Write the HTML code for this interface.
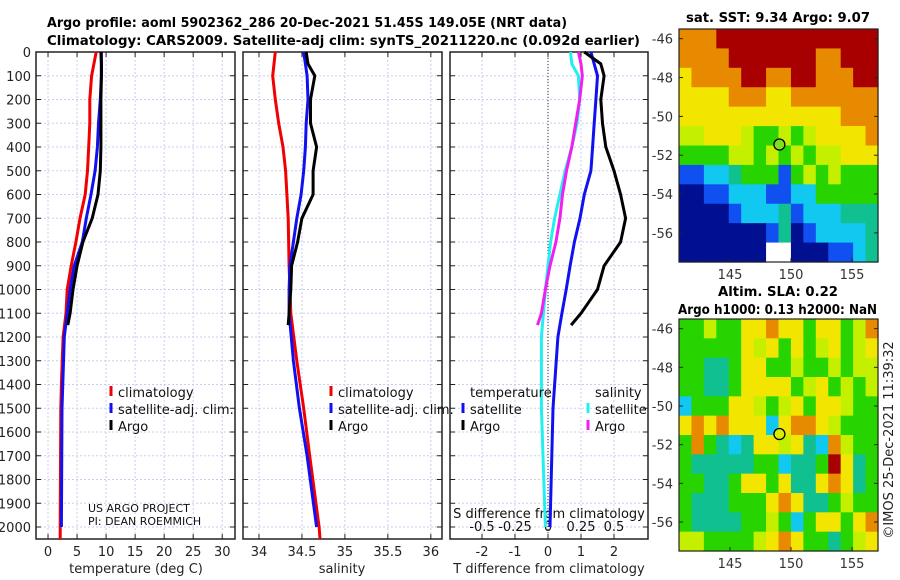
<!DOCTYPE html>
<html><head><meta charset="utf-8"><style>
body{margin:0;background:#fff;}
svg{display:block;font-family:"DejaVu Sans","Liberation Sans",sans-serif;}
</style></head><body>
<svg id="fig" width="900" height="580" viewBox="0 0 900 580">
<text x="47" y="27" font-size="13" font-weight="bold" textLength="520" lengthAdjust="spacingAndGlyphs">Argo profile: aoml 5902362_286 20-Dec-2021 51.45S 149.05E (NRT data)</text>
<text x="47" y="45" font-size="13" font-weight="bold" textLength="593" lengthAdjust="spacingAndGlyphs">Climatology: CARS2009. Satellite-adj clim: synTS_20211220.nc (0.092d earlier)</text>
<text x="686" y="22" font-size="13" font-weight="bold" textLength="184" lengthAdjust="spacingAndGlyphs">sat. SST: 9.34 Argo: 9.07</text>
<text x="718" y="296" font-size="13" font-weight="bold" textLength="120" lengthAdjust="spacingAndGlyphs">Altim. SLA: 0.22</text>
<text x="678" y="314" font-size="13" font-weight="bold" textLength="199" lengthAdjust="spacingAndGlyphs">Argo h1000: 0.13 h2000: NaN</text>
<text transform="translate(893,440) rotate(-90)" font-size="13" text-anchor="middle" fill="#222">©IMOS 25-Dec-2021 11:39:32</text>
</svg>
<script>
// ---- data ----
const depthT = [0,100,200,300,400,500,600,700,800,900,1000,1100,1200,1400,1500,2000,2050];
const tempClim = [8.3,7.5,7.2,7.2,7.0,6.8,6.4,5.5,4.8,4.0,3.3,3.1,2.6,2.3,2.2,2.1,2.1];
const depthTB = [0,100,200,300,400,500,600,700,800,900,1000,1100,1200,1500,2000];
const tempSat = [9.2,9.2,9.0,8.7,8.5,8.1,7.4,6.6,5.9,4.5,3.8,3.3,2.8,2.4,2.3];
const depthArgo = [0,50,100,200,300,400,500,600,700,800,900,1000,1100,1150];
const tempArgo = [9.1,9.2,9.2,9.1,9.1,9.1,9.0,8.6,7.6,6.0,5.0,4.3,3.8,3.4];
const depthS = [0,100,200,300,400,500,700,900,1100,1300,1500,1700,2000,2050];
const salClim = [34.19,34.16,34.19,34.23,34.28,34.31,34.34,34.35,34.37,34.44,34.52,34.59,34.70,34.71];
const depthSB = [0,100,200,300,400,500,600,700,800,900,1000,1100,1300,1500,1700,2000];
const salSat = [34.52,34.56,34.57,34.55,34.54,34.52,34.49,34.44,34.40,34.36,34.35,34.35,34.40,34.47,34.56,34.67];
const salArgo = [34.55,34.57,34.65,34.60,34.60,34.67,34.63,34.63,34.50,34.45,34.38,34.37,34.35,34.34];
const tDiffArgo = [1.1,1.6,1.7,1.6,1.65,1.75,2.0,2.2,2.35,2.2,1.7,1.5,1.0,0.7];
const tDiffSat = [1.3,1.5,1.45,1.4,1.35,1.3,1.1,0.97,0.8,0.67,0.55,0.42,0.3,0.15,0.06];
const sDiffArgo = [0.23,0.25,0.26,0.24,0.21,0.18,0.14,0.11,0.09,0.06,0.015,-0.02,-0.05,-0.08];
const depthSD = [0,50,100,200,300,400,500,600,700,800,900,1000,1200,1500,2000];
const sDiffSat = [0.17,0.18,0.23,0.24,0.22,0.18,0.13,0.09,0.05,0.02,0,-0.02,-0.05,-0.05,-0.02];
const depthTicks = [0,100,200,300,400,500,600,700,800,900,1000,1100,1200,1300,1400,1500,1600,1700,1800,1900,2000];
const tempTicks = [0,5,10,15,20,25,30];
const salTicks = [34,34.5,35,35.5,36];
const salTickLabels = ["34","34.5","35","35.5","36"];
const tdTicks = [-2,-1,0,1,2];
const sdTicks = [-0.5,-0.25,0,0.25,0.5];
const sdTickLabels = ["-0.5","-0.25","0","0.25","0.5"];
const lonTicks = [145,150,155];
const latTicks = [-46,-48,-50,-52,-54,-56];
const sstGrid = [
"OOORRRRRRRRRRRRR",
"OOOORRRRRRROORRR",
"YOOOORROORROOORR",
"YYYYOOOYYOOOOOOO",
"YYYYYYYYYYYYYOOO",
"LLYYYLGGLGLYYYYO",
"GGGGLLGLGLGLLYYY",
"BBCCTGGGBGLGLGGG",
"NNBBCCCBBCCGGGGG",
"NNNNBCCCTBCCCTTT",
"NNNNNNNBTNBCCCCT",
"NNNNNNNWWNNNBBCT"];
const slaGrid = [
"GGLGGYYOYYGYYGLO",
"GGGGGYLYGYGLYGLY",
"GGTTGYYGGLGGLGLL",
"GGTTGYYYYGLYGLGL",
"CGGGYYLGLYGYYLGG",
"YOYOYYYCYOOYLGGG",
"GOGTCTYYLYTCOLGG",
"GTTTTTGGCTTGRYTG",
"GGTTGYYGYTTYOYTG",
"GTTTGGGYOYTTGLGG",
"GTTTTGGLGCGYYGYO",
"LLGGGGLYOYGGTGLY"];
const palette = {R:"#a80000",O:"#e88a00",Y:"#f2e600",L:"#c4f000",G:"#28d400",T:"#10c090",C:"#10c8f0",B:"#1050f0",N:"#001090",W:"#ffffff"};

// ---- helpers ----
const svg = document.getElementById('fig');
const NS = "http://www.w3.org/2000/svg";
function mk(tag, attrs, parent){const e=document.createElementNS(NS,tag);for(const k in attrs)e.setAttribute(k,attrs[k]);(parent||svg).appendChild(e);return e;}
const top0=52, depthScale=(527-52)/2000;
const yD = d => top0 + d*depthScale;
const panels = [
 {x0:36,x1:235,vmin:-2.07,vmax:32.2,name:'temperature-panel'},
 {x0:243,x1:442,vmin:33.814,vmax:36.13,name:'salinity-panel'},
 {x0:450,x1:648,vmin:-2.97,vmax:3.03,name:'difference-panel'}];
function xf(p){return v => p.x0 + (v-p.vmin)/(p.vmax-p.vmin)*(p.x1-p.x0);}
const xT=xf(panels[0]), xS=xf(panels[1]), xTD=xf(panels[2]);
const xSD = v => xTD(v*4);
const bottom=539;

function line(xs,ys,xfun,color,name,w){
  const pts=xs.map((v,i)=>xfun(v).toFixed(1)+','+yD(ys[i]).toFixed(1)).join(' ');
  const e=mk('polyline',{points:pts,fill:'none',stroke:color,'stroke-width':w||3,'stroke-linejoin':'round'});
  
  
}

panels.forEach((p,pi)=>{
  const g=mk('g',{});
  
  
  mk('rect',{x:p.x0,y:top0,width:p.x1-p.x0,height:bottom-top0,fill:'#fff'},g);
  depthTicks.forEach(d=>{
    mk('line',{x1:p.x0,x2:p.x1,y1:yD(d),y2:yD(d),stroke:'#c8cef0','stroke-width':1,'stroke-dasharray':'2,2'},g);
    mk('line',{x1:p.x0,x2:p.x0+5,y1:yD(d),y2:yD(d),stroke:'#222'},g);
    mk('line',{x1:p.x1,x2:p.x1-5,y1:yD(d),y2:yD(d),stroke:'#222'},g);
  });
  const xticks = pi==0?tempTicks:pi==1?salTicks:tdTicks;
  const xfun = pi==0?xT:pi==1?xS:xTD;
  const labels = pi==1?salTickLabels:xticks.map(String);
  xticks.forEach((v,i)=>{
    const x=xfun(v);
    mk('line',{x1:x,x2:x,y1:top0,y2:bottom,stroke:'#c8cef0','stroke-dasharray':'2,2'},g);
    mk('line',{x1:x,x2:x,y1:bottom,y2:bottom-5,stroke:'#222'},g);
    mk('line',{x1:x,x2:x,y1:top0,y2:top0+5,stroke:'#222'},g);
    const t=mk('text',{x:x,y:556,'font-size':13,'text-anchor':'middle',fill:'#222'},g);
    t.textContent=labels[i];
    
    
  });
  mk('rect',{x:p.x0,y:top0,width:p.x1-p.x0,height:bottom-top0,fill:'none',stroke:'#222','stroke-width':1.5},g);
});
depthTicks.forEach(d=>{
  const t=mk('text',{x:31,y:yD(d)+5,'font-size':13,'text-anchor':'end',fill:'#222'});
  t.textContent=d;
  
  
});
mk('line',{x1:xTD(0),x2:xTD(0),y1:top0,y2:bottom,stroke:'#333','stroke-dasharray':'1,2'});
sdTicks.forEach((v,i)=>{
  const t=mk('text',{x:xSD(v),y:531,'font-size':13,'text-anchor':'middle',fill:'#111'});
  t.textContent=sdTickLabels[i];
  
  
});
function txt(x,y,s,name,opt){const t=mk('text',Object.assign({x:x,y:y,'font-size':13,fill:'#222'},opt||{}));t.textContent=s;return t;}
txt(136,573,'temperature (deg C)','temperature-axis-title',{'text-anchor':'middle'});
txt(342,573,'salinity','salinity-axis-title',{'text-anchor':'middle'});
txt(549,573,'T difference from climatology','t-diff-axis-title',{'text-anchor':'middle'});
txt(549,518,'S difference from climatology','s-diff-axis-title',{'text-anchor':'middle',fill:'#111'});
txt(88,512,'US ARGO PROJECT','project-note',{'font-size':11,fill:'#111'});
txt(88,525,'PI: DEAN ROEMMICH','pi-note',{'font-size':11,fill:'#111'});

line(tempClim,depthT,xT,'#f00000','temp-climatology-line');
line(tempSat,depthTB,xT,'#1010f0','temp-satellite-line');
line(tempArgo,depthArgo,xT,'#000','temp-argo-line');
line(salClim,depthS,xS,'#f00000','sal-climatology-line');
line(salSat,depthSB,xS,'#1010f0','sal-satellite-line');
line(salArgo,depthArgo,xS,'#000','sal-argo-line');
line(tDiffSat,depthTB,xTD,'#1010f0','t-diff-satellite-line');
line(tDiffArgo,depthArgo,xTD,'#000','t-diff-argo-line');
line(sDiffSat,depthSD,xSD,'#20f0f0','s-diff-satellite-line');
line(sDiffArgo,depthArgo,xSD,'#f020f0','s-diff-argo-line');

function leg(x,y,color,label,name){
  const g=mk('g',{});
  
  
  mk('line',{x1:x,x2:x,y1:y-11,y2:y-1,stroke:color,'stroke-width':3},g);
  const t=mk('text',{x:x+7,y:y,'font-size':13,fill:'#111'},g);t.textContent=label;
}
leg(111,397,'#f00000','climatology','legend-climatology');
leg(111,414,'#1010f0','satellite-adj. clim.','legend-satellite');
leg(111,431,'#000','Argo','legend-argo');
leg(331,397,'#f00000','climatology','legend-sal-climatology');
leg(331,414,'#1010f0','satellite-adj. clim.','legend-sal-satellite');
leg(331,431,'#000','Argo','legend-sal-argo');
txt(470,397,'temperature','legend-temperature-header',{fill:'#111'});
txt(595,397,'salinity','legend-salinity-header',{fill:'#111'});
leg(463,414,'#1010f0','satellite','legend-t-satellite');
leg(463,431,'#000','Argo','legend-t-argo');
leg(588,414,'#20f0f0','satellite','legend-s-satellite');
leg(588,431,'#f020f0','Argo','legend-s-argo');

function drawMap(grid,x0,y0,x1,y1,latTop,latBot,name,dot){
  const g=mk('g',{});
  
  
  const rows=grid.length, cols=grid[0].length;
  const cw=(x1-x0)/cols, ch=(y1-y0)/rows;
  grid.forEach((row,r)=>{for(let c=0;c<cols;c++){
    mk('rect',{x:(x0+c*cw).toFixed(2),y:(y0+r*ch).toFixed(2),width:(cw+0.6).toFixed(2),height:(ch+0.6).toFixed(2),fill:palette[row[c]]},g);
  }});
  const lonF=v=>730+(v-145)*12.2;
  const latF=v=>y0+(latTop-v)/(latTop-latBot)*(y1-y0);
  mk('rect',{x:x0,y:y0,width:x1-x0,height:y1-y0,fill:'none',stroke:'#222','stroke-width':1.2},g);
  latTicks.forEach(v=>{
    const y=latF(v);
    mk('line',{x1:x0,x2:x0+4,y1:y,y2:y,stroke:'#222'},g);
    mk('line',{x1:x1,x2:x1-4,y1:y,y2:y,stroke:'#222'},g);
    const t=mk('text',{x:x0-6,y:y+5,'font-size':13,'text-anchor':'end',fill:'#333'},g);t.textContent=v;
  });
  lonTicks.forEach(v=>{
    const x=lonF(v);
    mk('line',{x1:x,x2:x,y1:y1,y2:y1-4,stroke:'#222'},g);
    const t=mk('text',{x:x,y:y1+17,'font-size':13,'text-anchor':'middle',fill:'#333'},g);t.textContent=v;
  });
  const c=mk('circle',{cx:lonF(149.05),cy:latF(-51.45),r:5.5,fill:dot,stroke:'#000','stroke-width':1.3},g);
  
  
}
drawMap(sstGrid,679,29,878,262,-45.5,-57.5,'sst-map','#80e020');
drawMap(slaGrid,679,319,878,551,-45.5,-57.5,'sla-map','#d8f000');
</script>
</body></html>
